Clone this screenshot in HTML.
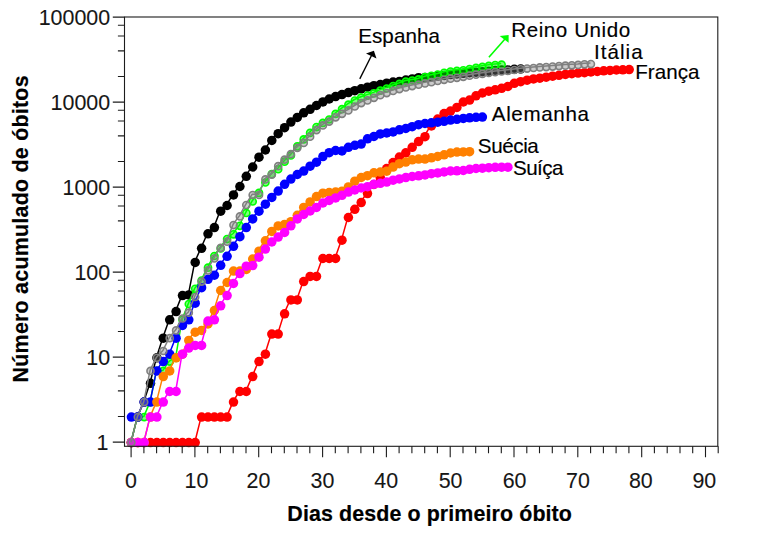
<!DOCTYPE html>
<html lang="pt"><head><meta charset="utf-8"><title>Número acumulado de óbitos</title>
<style>html,body{margin:0;padding:0;background:#fff;}body{width:774px;height:539px;overflow:hidden;}svg{display:block;}text{font-family:"Liberation Sans",sans-serif;fill:#161616;stroke:#161616;stroke-width:0.1px;}</style></head><body>
<svg width="774" height="539" viewBox="0 0 774 539">
<rect width="774" height="539" fill="#ffffff"/>
<g id="franca">
<polyline points="131.0,442.2 137.4,442.2 143.8,442.2 150.1,442.2 156.5,442.2 162.9,442.2 169.3,442.2 175.7,442.2 182.1,442.2 188.4,442.2 194.8,442.2 201.2,416.6 207.6,416.6 214.0,416.6 220.3,416.6 226.7,416.6 233.1,401.6 239.5,391.0 245.9,391.0 252.3,376.1 258.6,361.1 265.0,353.7 271.4,333.5 277.8,333.5 284.2,313.1 290.5,299.3 296.9,299.3 303.3,280.9 309.7,275.7 316.1,275.7 322.5,257.7 328.8,257.7 335.2,257.7 341.6,239.4 348.0,216.7 354.4,208.5 360.8,201.8 367.1,192.8 373.5,183.7 379.9,176.6 386.3,167.7 392.7,161.7 399.0,156.2 405.4,151.8 411.8,146.4 418.2,140.7 424.6,135.7 431.0,125.0 437.3,118.1 443.7,112.5 450.1,110.1 456.5,106.5 462.9,101.0 469.2,99.1 475.6,94.8 482.0,92.0 488.4,90.2 494.8,88.8 501.2,87.3 507.5,85.5 513.9,82.3 520.3,80.7 526.7,79.1 533.1,77.9 539.4,77.1 545.8,76.1 552.2,75.2 558.6,74.2 565.0,73.3 571.4,72.7 577.7,72.1 584.1,71.7 590.5,71.0 596.9,70.4 603.3,69.7 609.6,69.3 616.0,69.0 622.4,68.7 628.8,68.5" fill="none" stroke="#ff0000" stroke-width="1.5" stroke-linejoin="round"/>
<g fill="#ff0000">
<circle cx="131.4" cy="442.6" r="4.75"/>
<circle cx="137.8" cy="442.6" r="4.75"/>
<circle cx="144.2" cy="442.6" r="4.75"/>
<circle cx="150.5" cy="442.6" r="4.75"/>
<circle cx="156.9" cy="442.6" r="4.75"/>
<circle cx="163.3" cy="442.6" r="4.75"/>
<circle cx="169.7" cy="442.6" r="4.75"/>
<circle cx="176.1" cy="442.6" r="4.75"/>
<circle cx="182.5" cy="442.6" r="4.75"/>
<circle cx="188.8" cy="442.6" r="4.75"/>
<circle cx="195.2" cy="442.6" r="4.75"/>
<circle cx="201.6" cy="417.1" r="4.75"/>
<circle cx="208.0" cy="417.1" r="4.75"/>
<circle cx="214.4" cy="417.1" r="4.75"/>
<circle cx="220.7" cy="417.1" r="4.75"/>
<circle cx="227.1" cy="417.1" r="4.75"/>
<circle cx="233.5" cy="402.1" r="4.75"/>
<circle cx="239.9" cy="391.5" r="4.75"/>
<circle cx="246.3" cy="391.5" r="4.75"/>
<circle cx="252.7" cy="376.6" r="4.75"/>
<circle cx="259.0" cy="361.6" r="4.75"/>
<circle cx="265.4" cy="354.2" r="4.75"/>
<circle cx="271.8" cy="334.1" r="4.75"/>
<circle cx="278.2" cy="334.1" r="4.75"/>
<circle cx="284.6" cy="313.8" r="4.75"/>
<circle cx="290.9" cy="299.9" r="4.75"/>
<circle cx="297.3" cy="299.9" r="4.75"/>
<circle cx="303.7" cy="281.6" r="4.75"/>
<circle cx="310.1" cy="276.4" r="4.75"/>
<circle cx="316.5" cy="276.4" r="4.75"/>
<circle cx="322.9" cy="258.5" r="4.75"/>
<circle cx="329.2" cy="258.5" r="4.75"/>
<circle cx="335.6" cy="258.5" r="4.75"/>
<circle cx="342.0" cy="240.2" r="4.75"/>
<circle cx="348.4" cy="217.5" r="4.75"/>
<circle cx="354.8" cy="209.3" r="4.75"/>
<circle cx="361.2" cy="202.6" r="4.75"/>
<circle cx="367.5" cy="193.6" r="4.75"/>
<circle cx="373.9" cy="184.5" r="4.75"/>
<circle cx="380.3" cy="177.5" r="4.75"/>
<circle cx="386.7" cy="168.6" r="4.75"/>
<circle cx="393.1" cy="162.6" r="4.75"/>
<circle cx="399.4" cy="157.1" r="4.75"/>
<circle cx="405.8" cy="152.8" r="4.75"/>
<circle cx="412.2" cy="147.3" r="4.75"/>
<circle cx="418.6" cy="141.6" r="4.75"/>
<circle cx="425.0" cy="136.7" r="4.75"/>
<circle cx="431.4" cy="126.0" r="4.75"/>
<circle cx="437.7" cy="119.0" r="4.75"/>
<circle cx="444.1" cy="113.5" r="4.75"/>
<circle cx="450.5" cy="111.1" r="4.75"/>
<circle cx="456.9" cy="107.4" r="4.75"/>
<circle cx="463.3" cy="102.0" r="4.75"/>
<circle cx="469.6" cy="100.1" r="4.75"/>
<circle cx="476.0" cy="95.8" r="4.75"/>
<circle cx="482.4" cy="93.0" r="4.75"/>
<circle cx="488.8" cy="91.2" r="4.75"/>
<circle cx="495.2" cy="89.8" r="4.75"/>
<circle cx="501.6" cy="88.3" r="4.75"/>
<circle cx="507.9" cy="86.5" r="4.75"/>
<circle cx="514.3" cy="83.3" r="4.75"/>
<circle cx="520.7" cy="81.7" r="4.75"/>
<circle cx="527.1" cy="80.2" r="4.75"/>
<circle cx="533.5" cy="78.9" r="4.75"/>
<circle cx="539.8" cy="78.2" r="4.75"/>
<circle cx="546.2" cy="77.2" r="4.75"/>
<circle cx="552.6" cy="76.2" r="4.75"/>
<circle cx="559.0" cy="75.3" r="4.75"/>
<circle cx="565.4" cy="74.4" r="4.75"/>
<circle cx="571.8" cy="73.7" r="4.75"/>
<circle cx="578.1" cy="73.1" r="4.75"/>
<circle cx="584.5" cy="72.7" r="4.75"/>
<circle cx="590.9" cy="72.0" r="4.75"/>
<circle cx="597.3" cy="71.5" r="4.75"/>
<circle cx="603.7" cy="70.8" r="4.75"/>
<circle cx="610.0" cy="70.4" r="4.75"/>
<circle cx="616.4" cy="70.0" r="4.75"/>
<circle cx="622.8" cy="69.8" r="4.75"/>
<circle cx="629.2" cy="69.6" r="4.75"/>
</g></g>
<g id="espanha">
<polyline points="131.0,442.2 137.4,416.6 143.8,401.6 150.1,382.8 156.5,357.2 162.9,337.6 169.3,319.2 175.7,311.0 182.1,294.9 188.4,294.3 194.8,261.7 201.2,247.5 207.6,233.0 214.0,226.8 220.3,210.4 226.7,204.7 233.1,194.1 239.5,185.6 245.9,175.4 252.3,166.1 258.6,156.3 265.0,149.1 271.4,139.4 277.8,132.8 284.2,126.8 290.5,121.2 296.9,116.4 303.3,111.8 309.7,108.4 316.1,104.5 322.5,100.9 328.8,98.0 335.2,95.6 341.6,93.5 348.0,91.6 354.4,89.7 360.8,87.7 367.1,86.1 373.5,84.7 379.9,83.5 386.3,82.2 392.7,81.0 399.0,80.4 405.4,79.1 411.8,77.9 418.2,76.6 424.6,76.5 431.0,75.8 437.3,75.1 443.7,74.3 450.1,73.6 456.5,72.8 462.9,72.2 469.2,71.6 475.6,71.1 482.0,70.6 488.4,70.2 494.8,69.5 501.2,69.1 507.5,69.1 513.9,68.2 520.3,68.0" fill="none" stroke="#000000" stroke-width="1.5" stroke-linejoin="round"/>
<g fill="#000000">
<circle cx="131.4" cy="442.6" r="4.75"/>
<circle cx="137.8" cy="417.1" r="4.75"/>
<circle cx="144.2" cy="402.1" r="4.75"/>
<circle cx="150.5" cy="383.3" r="4.75"/>
<circle cx="156.9" cy="357.8" r="4.75"/>
<circle cx="163.3" cy="338.2" r="4.75"/>
<circle cx="169.7" cy="319.8" r="4.75"/>
<circle cx="176.1" cy="311.6" r="4.75"/>
<circle cx="182.5" cy="295.6" r="4.75"/>
<circle cx="188.8" cy="294.9" r="4.75"/>
<circle cx="195.2" cy="262.4" r="4.75"/>
<circle cx="201.6" cy="248.3" r="4.75"/>
<circle cx="208.0" cy="233.8" r="4.75"/>
<circle cx="214.4" cy="227.6" r="4.75"/>
<circle cx="220.7" cy="211.2" r="4.75"/>
<circle cx="227.1" cy="205.5" r="4.75"/>
<circle cx="233.5" cy="194.9" r="4.75"/>
<circle cx="239.9" cy="186.5" r="4.75"/>
<circle cx="246.3" cy="176.3" r="4.75"/>
<circle cx="252.7" cy="167.0" r="4.75"/>
<circle cx="259.0" cy="157.2" r="4.75"/>
<circle cx="265.4" cy="150.0" r="4.75"/>
<circle cx="271.8" cy="140.4" r="4.75"/>
<circle cx="278.2" cy="133.7" r="4.75"/>
<circle cx="284.6" cy="127.7" r="4.75"/>
<circle cx="290.9" cy="122.1" r="4.75"/>
<circle cx="297.3" cy="117.4" r="4.75"/>
<circle cx="303.7" cy="112.8" r="4.75"/>
<circle cx="310.1" cy="109.3" r="4.75"/>
<circle cx="316.5" cy="105.5" r="4.75"/>
<circle cx="322.9" cy="101.9" r="4.75"/>
<circle cx="329.2" cy="99.0" r="4.75"/>
<circle cx="335.6" cy="96.6" r="4.75"/>
<circle cx="342.0" cy="94.6" r="4.75"/>
<circle cx="348.4" cy="92.6" r="4.75"/>
<circle cx="354.8" cy="90.7" r="4.75"/>
<circle cx="361.2" cy="88.8" r="4.75"/>
<circle cx="367.5" cy="87.2" r="4.75"/>
<circle cx="373.9" cy="85.7" r="4.75"/>
<circle cx="380.3" cy="84.5" r="4.75"/>
<circle cx="386.7" cy="83.2" r="4.75"/>
<circle cx="393.1" cy="82.0" r="4.75"/>
<circle cx="399.4" cy="81.4" r="4.75"/>
<circle cx="405.8" cy="80.1" r="4.75"/>
<circle cx="412.2" cy="78.9" r="4.75"/>
<circle cx="418.6" cy="77.7" r="4.75"/>
<circle cx="425.0" cy="77.6" r="4.75"/>
<circle cx="431.4" cy="76.8" r="4.75"/>
<circle cx="437.7" cy="76.1" r="4.75"/>
<circle cx="444.1" cy="75.4" r="4.75"/>
<circle cx="450.5" cy="74.6" r="4.75"/>
<circle cx="456.9" cy="73.9" r="4.75"/>
<circle cx="463.3" cy="73.3" r="4.75"/>
<circle cx="469.6" cy="72.7" r="4.75"/>
<circle cx="476.0" cy="72.2" r="4.75"/>
<circle cx="482.4" cy="71.7" r="4.75"/>
<circle cx="488.8" cy="71.2" r="4.75"/>
<circle cx="495.2" cy="70.5" r="4.75"/>
<circle cx="501.6" cy="70.1" r="4.75"/>
<circle cx="507.9" cy="70.1" r="4.75"/>
<circle cx="514.3" cy="69.3" r="4.75"/>
<circle cx="520.7" cy="69.0" r="4.75"/>
</g></g>
<g id="uk">
<polyline points="131.0,442.2 137.4,416.6 143.8,416.6 150.1,401.6 156.5,370.4 162.9,370.4 169.3,361.1 175.7,357.2 182.1,319.2 188.4,303.4 194.8,288.1 201.2,280.0 207.6,267.0 214.0,255.3 220.3,247.7 226.7,238.4 233.1,233.5 239.5,225.0 245.9,212.2 252.3,200.7 258.6,192.0 265.0,181.7 271.4,173.4 277.8,168.3 284.2,160.8 290.5,154.5 296.9,145.5 303.3,138.4 309.7,132.0 316.1,126.2 322.5,121.9 328.8,118.5 335.2,113.0 341.6,108.2 348.0,103.7 354.4,99.5 360.8,96.7 367.1,94.6 373.5,92.4 379.9,89.6 386.3,87.4 392.7,85.0 399.0,82.9 405.4,80.5 411.8,79.5 418.2,78.4 424.6,76.2 431.0,74.7 437.3,73.5 443.7,71.8 450.1,70.4 456.5,69.8 462.9,69.3 469.2,67.9 475.6,66.8 482.0,65.8 488.4,64.8 494.8,64.0 501.2,63.6" fill="none" stroke="#00ff00" stroke-width="1.5" stroke-linejoin="round"/>
<g fill="#00ff00" fill-opacity="0.5" stroke="#00ff00" stroke-width="1.6">
<circle cx="131.4" cy="442.6" r="3.55"/>
<circle cx="137.8" cy="417.1" r="3.55"/>
<circle cx="144.2" cy="417.1" r="3.55"/>
<circle cx="150.5" cy="402.1" r="3.55"/>
<circle cx="156.9" cy="370.9" r="3.55"/>
<circle cx="163.3" cy="370.9" r="3.55"/>
<circle cx="169.7" cy="361.6" r="3.55"/>
<circle cx="176.1" cy="357.8" r="3.55"/>
<circle cx="182.5" cy="319.8" r="3.55"/>
<circle cx="188.8" cy="304.0" r="3.55"/>
<circle cx="195.2" cy="288.8" r="3.55"/>
<circle cx="201.6" cy="280.7" r="3.55"/>
<circle cx="208.0" cy="267.7" r="3.55"/>
<circle cx="214.4" cy="256.0" r="3.55"/>
<circle cx="220.7" cy="248.5" r="3.55"/>
<circle cx="227.1" cy="239.1" r="3.55"/>
<circle cx="233.5" cy="234.3" r="3.55"/>
<circle cx="239.9" cy="225.8" r="3.55"/>
<circle cx="246.3" cy="213.0" r="3.55"/>
<circle cx="252.7" cy="201.5" r="3.55"/>
<circle cx="259.0" cy="192.9" r="3.55"/>
<circle cx="265.4" cy="182.5" r="3.55"/>
<circle cx="271.8" cy="174.2" r="3.55"/>
<circle cx="278.2" cy="169.2" r="3.55"/>
<circle cx="284.6" cy="161.7" r="3.55"/>
<circle cx="290.9" cy="155.4" r="3.55"/>
<circle cx="297.3" cy="146.4" r="3.55"/>
<circle cx="303.7" cy="139.4" r="3.55"/>
<circle cx="310.1" cy="132.9" r="3.55"/>
<circle cx="316.5" cy="127.1" r="3.55"/>
<circle cx="322.9" cy="122.9" r="3.55"/>
<circle cx="329.2" cy="119.5" r="3.55"/>
<circle cx="335.6" cy="113.9" r="3.55"/>
<circle cx="342.0" cy="109.2" r="3.55"/>
<circle cx="348.4" cy="104.7" r="3.55"/>
<circle cx="354.8" cy="100.5" r="3.55"/>
<circle cx="361.2" cy="97.7" r="3.55"/>
<circle cx="367.5" cy="95.6" r="3.55"/>
<circle cx="373.9" cy="93.4" r="3.55"/>
<circle cx="380.3" cy="90.6" r="3.55"/>
<circle cx="386.7" cy="88.5" r="3.55"/>
<circle cx="393.1" cy="86.0" r="3.55"/>
<circle cx="399.4" cy="83.9" r="3.55"/>
<circle cx="405.8" cy="81.6" r="3.55"/>
<circle cx="412.2" cy="80.5" r="3.55"/>
<circle cx="418.6" cy="79.4" r="3.55"/>
<circle cx="425.0" cy="77.2" r="3.55"/>
<circle cx="431.4" cy="75.8" r="3.55"/>
<circle cx="437.7" cy="74.5" r="3.55"/>
<circle cx="444.1" cy="72.8" r="3.55"/>
<circle cx="450.5" cy="71.5" r="3.55"/>
<circle cx="456.9" cy="70.9" r="3.55"/>
<circle cx="463.3" cy="70.3" r="3.55"/>
<circle cx="469.6" cy="69.0" r="3.55"/>
<circle cx="476.0" cy="67.9" r="3.55"/>
<circle cx="482.4" cy="66.9" r="3.55"/>
<circle cx="488.8" cy="65.9" r="3.55"/>
<circle cx="495.2" cy="65.1" r="3.55"/>
<circle cx="501.6" cy="64.7" r="3.55"/>
</g></g>
<g id="alemanha">
<polyline points="131.0,416.6 137.4,416.6 143.8,401.6 150.1,401.6 156.5,370.4 162.9,361.1 169.3,353.7 175.7,337.6 182.1,324.9 188.4,319.2 194.8,302.5 201.2,287.0 207.6,278.6 214.0,274.5 220.3,264.6 226.7,255.5 233.1,245.5 239.5,235.9 245.9,226.8 252.3,218.1 258.6,210.4 265.0,203.4 271.4,196.6 277.8,190.3 284.2,183.4 290.5,178.2 296.9,173.6 303.3,170.2 309.7,165.3 316.1,161.3 322.5,155.7 328.8,151.8 335.2,149.6 341.6,150.0 348.0,146.4 354.4,144.3 360.8,143.2 367.1,137.9 373.5,135.5 379.9,132.9 386.3,132.0 392.7,131.0 399.0,128.8 405.4,127.5 411.8,125.8 418.2,123.8 424.6,122.6 431.0,121.8 437.3,121.2 443.7,120.3 450.1,119.2 456.5,118.3 462.9,117.4 469.2,116.8 475.6,116.4 482.0,116.1" fill="none" stroke="#0000ff" stroke-width="1.5" stroke-linejoin="round"/>
<g fill="#0000ff">
<circle cx="131.4" cy="417.1" r="4.75"/>
<circle cx="137.8" cy="417.1" r="4.75"/>
<circle cx="144.2" cy="402.1" r="4.75"/>
<circle cx="150.5" cy="402.1" r="4.75"/>
<circle cx="156.9" cy="370.9" r="4.75"/>
<circle cx="163.3" cy="361.6" r="4.75"/>
<circle cx="169.7" cy="354.2" r="4.75"/>
<circle cx="176.1" cy="338.2" r="4.75"/>
<circle cx="182.5" cy="325.5" r="4.75"/>
<circle cx="188.8" cy="319.8" r="4.75"/>
<circle cx="195.2" cy="303.2" r="4.75"/>
<circle cx="201.6" cy="287.7" r="4.75"/>
<circle cx="208.0" cy="279.3" r="4.75"/>
<circle cx="214.4" cy="275.2" r="4.75"/>
<circle cx="220.7" cy="265.3" r="4.75"/>
<circle cx="227.1" cy="256.3" r="4.75"/>
<circle cx="233.5" cy="246.3" r="4.75"/>
<circle cx="239.9" cy="236.7" r="4.75"/>
<circle cx="246.3" cy="227.6" r="4.75"/>
<circle cx="252.7" cy="218.9" r="4.75"/>
<circle cx="259.0" cy="211.2" r="4.75"/>
<circle cx="265.4" cy="204.2" r="4.75"/>
<circle cx="271.8" cy="197.4" r="4.75"/>
<circle cx="278.2" cy="191.1" r="4.75"/>
<circle cx="284.6" cy="184.3" r="4.75"/>
<circle cx="290.9" cy="179.1" r="4.75"/>
<circle cx="297.3" cy="174.5" r="4.75"/>
<circle cx="303.7" cy="171.1" r="4.75"/>
<circle cx="310.1" cy="166.2" r="4.75"/>
<circle cx="316.5" cy="162.2" r="4.75"/>
<circle cx="322.9" cy="156.6" r="4.75"/>
<circle cx="329.2" cy="152.7" r="4.75"/>
<circle cx="335.6" cy="150.5" r="4.75"/>
<circle cx="342.0" cy="151.0" r="4.75"/>
<circle cx="348.4" cy="147.3" r="4.75"/>
<circle cx="354.8" cy="145.3" r="4.75"/>
<circle cx="361.2" cy="144.1" r="4.75"/>
<circle cx="367.5" cy="138.8" r="4.75"/>
<circle cx="373.9" cy="136.5" r="4.75"/>
<circle cx="380.3" cy="133.9" r="4.75"/>
<circle cx="386.7" cy="133.0" r="4.75"/>
<circle cx="393.1" cy="131.9" r="4.75"/>
<circle cx="399.4" cy="129.8" r="4.75"/>
<circle cx="405.8" cy="128.5" r="4.75"/>
<circle cx="412.2" cy="126.7" r="4.75"/>
<circle cx="418.6" cy="124.7" r="4.75"/>
<circle cx="425.0" cy="123.5" r="4.75"/>
<circle cx="431.4" cy="122.8" r="4.75"/>
<circle cx="437.7" cy="122.2" r="4.75"/>
<circle cx="444.1" cy="121.3" r="4.75"/>
<circle cx="450.5" cy="120.1" r="4.75"/>
<circle cx="456.9" cy="119.3" r="4.75"/>
<circle cx="463.3" cy="118.4" r="4.75"/>
<circle cx="469.6" cy="117.8" r="4.75"/>
<circle cx="476.0" cy="117.3" r="4.75"/>
<circle cx="482.4" cy="117.1" r="4.75"/>
</g></g>
<g id="suecia">
<polyline points="131.0,442.2 137.4,442.2 143.8,442.2 150.1,416.6 156.5,401.6 162.9,376.1 169.3,370.4 175.7,357.2 182.1,353.7 188.4,339.8 194.8,331.6 201.2,329.8 207.6,323.4 214.0,309.9 220.3,289.8 226.7,281.8 233.1,270.4 239.5,270.4 245.9,268.7 252.3,258.2 258.6,250.5 265.0,240.0 271.4,230.7 277.8,225.1 284.2,223.6 290.5,220.9 296.9,214.5 303.3,206.6 309.7,201.1 316.1,195.8 322.5,192.3 328.8,191.6 335.2,191.1 341.6,190.3 348.0,186.0 354.4,180.4 360.8,176.6 367.1,174.8 373.5,172.0 379.9,171.3 386.3,170.3 392.7,166.2 399.0,162.8 405.4,161.2 411.8,158.9 418.2,158.2 424.6,158.2 431.0,156.9 437.3,155.6 443.7,153.9 450.1,152.1 456.5,151.2 462.9,151.0 469.2,150.8" fill="none" stroke="#ff8000" stroke-width="1.5" stroke-linejoin="round"/>
<g fill="#ff8000">
<circle cx="131.4" cy="442.6" r="4.75"/>
<circle cx="137.8" cy="442.6" r="4.75"/>
<circle cx="144.2" cy="442.6" r="4.75"/>
<circle cx="150.5" cy="417.1" r="4.75"/>
<circle cx="156.9" cy="402.1" r="4.75"/>
<circle cx="163.3" cy="376.6" r="4.75"/>
<circle cx="169.7" cy="370.9" r="4.75"/>
<circle cx="176.1" cy="357.8" r="4.75"/>
<circle cx="182.5" cy="354.2" r="4.75"/>
<circle cx="188.8" cy="340.4" r="4.75"/>
<circle cx="195.2" cy="332.2" r="4.75"/>
<circle cx="201.6" cy="330.4" r="4.75"/>
<circle cx="208.0" cy="324.0" r="4.75"/>
<circle cx="214.4" cy="310.5" r="4.75"/>
<circle cx="220.7" cy="290.5" r="4.75"/>
<circle cx="227.1" cy="282.5" r="4.75"/>
<circle cx="233.5" cy="271.1" r="4.75"/>
<circle cx="239.9" cy="271.1" r="4.75"/>
<circle cx="246.3" cy="269.4" r="4.75"/>
<circle cx="252.7" cy="259.0" r="4.75"/>
<circle cx="259.0" cy="251.2" r="4.75"/>
<circle cx="265.4" cy="240.8" r="4.75"/>
<circle cx="271.8" cy="231.4" r="4.75"/>
<circle cx="278.2" cy="225.9" r="4.75"/>
<circle cx="284.6" cy="224.4" r="4.75"/>
<circle cx="290.9" cy="221.7" r="4.75"/>
<circle cx="297.3" cy="215.3" r="4.75"/>
<circle cx="303.7" cy="207.4" r="4.75"/>
<circle cx="310.1" cy="201.9" r="4.75"/>
<circle cx="316.5" cy="196.6" r="4.75"/>
<circle cx="322.9" cy="193.2" r="4.75"/>
<circle cx="329.2" cy="192.5" r="4.75"/>
<circle cx="335.6" cy="192.0" r="4.75"/>
<circle cx="342.0" cy="191.2" r="4.75"/>
<circle cx="348.4" cy="186.9" r="4.75"/>
<circle cx="354.8" cy="181.2" r="4.75"/>
<circle cx="361.2" cy="177.5" r="4.75"/>
<circle cx="367.5" cy="175.7" r="4.75"/>
<circle cx="373.9" cy="172.8" r="4.75"/>
<circle cx="380.3" cy="172.1" r="4.75"/>
<circle cx="386.7" cy="171.2" r="4.75"/>
<circle cx="393.1" cy="167.1" r="4.75"/>
<circle cx="399.4" cy="163.7" r="4.75"/>
<circle cx="405.8" cy="162.1" r="4.75"/>
<circle cx="412.2" cy="159.8" r="4.75"/>
<circle cx="418.6" cy="159.1" r="4.75"/>
<circle cx="425.0" cy="159.1" r="4.75"/>
<circle cx="431.4" cy="157.8" r="4.75"/>
<circle cx="437.7" cy="156.5" r="4.75"/>
<circle cx="444.1" cy="154.8" r="4.75"/>
<circle cx="450.5" cy="153.0" r="4.75"/>
<circle cx="456.9" cy="152.1" r="4.75"/>
<circle cx="463.3" cy="151.9" r="4.75"/>
<circle cx="469.6" cy="151.7" r="4.75"/>
</g></g>
<g id="suica">
<polyline points="131.0,442.2 137.4,442.2 143.8,442.2 150.1,416.6 156.5,416.6 162.9,401.6 169.3,391.0 175.7,391.0 182.1,353.7 188.4,347.5 194.8,344.8 201.2,344.8 207.6,320.5 214.0,319.2 220.3,305.1 226.7,294.9 233.1,282.8 239.5,272.9 245.9,265.5 252.3,264.9 258.6,256.5 265.0,248.3 271.4,241.3 277.8,236.4 284.2,231.6 290.5,225.0 296.9,218.1 303.3,213.7 309.7,210.2 316.1,206.6 322.5,202.2 328.8,199.6 335.2,197.1 341.6,194.5 348.0,191.3 354.4,189.2 360.8,187.1 367.1,185.9 373.5,183.5 379.9,182.4 386.3,181.3 392.7,179.3 399.0,178.1 405.4,176.8 411.8,175.6 418.2,175.0 424.6,174.0 431.0,172.8 437.3,172.0 443.7,171.0 450.1,170.1 456.5,169.9 462.9,169.6 469.2,168.4 475.6,167.6 482.0,167.3 488.4,166.8 494.8,166.5 501.2,166.3 507.5,166.3" fill="none" stroke="#ff00ff" stroke-width="1.5" stroke-linejoin="round"/>
<g fill="#ff00ff">
<circle cx="131.4" cy="442.6" r="4.75"/>
<circle cx="137.8" cy="442.6" r="4.75"/>
<circle cx="144.2" cy="442.6" r="4.75"/>
<circle cx="150.5" cy="417.1" r="4.75"/>
<circle cx="156.9" cy="417.1" r="4.75"/>
<circle cx="163.3" cy="402.1" r="4.75"/>
<circle cx="169.7" cy="391.5" r="4.75"/>
<circle cx="176.1" cy="391.5" r="4.75"/>
<circle cx="182.5" cy="354.2" r="4.75"/>
<circle cx="188.8" cy="348.1" r="4.75"/>
<circle cx="195.2" cy="345.4" r="4.75"/>
<circle cx="201.6" cy="345.4" r="4.75"/>
<circle cx="208.0" cy="321.1" r="4.75"/>
<circle cx="214.4" cy="319.8" r="4.75"/>
<circle cx="220.7" cy="305.8" r="4.75"/>
<circle cx="227.1" cy="295.6" r="4.75"/>
<circle cx="233.5" cy="283.5" r="4.75"/>
<circle cx="239.9" cy="273.6" r="4.75"/>
<circle cx="246.3" cy="266.2" r="4.75"/>
<circle cx="252.7" cy="265.6" r="4.75"/>
<circle cx="259.0" cy="257.2" r="4.75"/>
<circle cx="265.4" cy="249.1" r="4.75"/>
<circle cx="271.8" cy="242.0" r="4.75"/>
<circle cx="278.2" cy="237.1" r="4.75"/>
<circle cx="284.6" cy="232.4" r="4.75"/>
<circle cx="290.9" cy="225.8" r="4.75"/>
<circle cx="297.3" cy="218.9" r="4.75"/>
<circle cx="303.7" cy="214.5" r="4.75"/>
<circle cx="310.1" cy="211.0" r="4.75"/>
<circle cx="316.5" cy="207.4" r="4.75"/>
<circle cx="322.9" cy="203.0" r="4.75"/>
<circle cx="329.2" cy="200.4" r="4.75"/>
<circle cx="335.6" cy="197.9" r="4.75"/>
<circle cx="342.0" cy="195.3" r="4.75"/>
<circle cx="348.4" cy="192.1" r="4.75"/>
<circle cx="354.8" cy="190.0" r="4.75"/>
<circle cx="361.2" cy="188.0" r="4.75"/>
<circle cx="367.5" cy="186.7" r="4.75"/>
<circle cx="373.9" cy="184.3" r="4.75"/>
<circle cx="380.3" cy="183.3" r="4.75"/>
<circle cx="386.7" cy="182.1" r="4.75"/>
<circle cx="393.1" cy="180.2" r="4.75"/>
<circle cx="399.4" cy="178.9" r="4.75"/>
<circle cx="405.8" cy="177.6" r="4.75"/>
<circle cx="412.2" cy="176.5" r="4.75"/>
<circle cx="418.6" cy="175.8" r="4.75"/>
<circle cx="425.0" cy="174.9" r="4.75"/>
<circle cx="431.4" cy="173.7" r="4.75"/>
<circle cx="437.7" cy="172.9" r="4.75"/>
<circle cx="444.1" cy="171.9" r="4.75"/>
<circle cx="450.5" cy="171.0" r="4.75"/>
<circle cx="456.9" cy="170.8" r="4.75"/>
<circle cx="463.3" cy="170.5" r="4.75"/>
<circle cx="469.6" cy="169.3" r="4.75"/>
<circle cx="476.0" cy="168.5" r="4.75"/>
<circle cx="482.4" cy="168.2" r="4.75"/>
<circle cx="488.8" cy="167.7" r="4.75"/>
<circle cx="495.2" cy="167.3" r="4.75"/>
<circle cx="501.6" cy="167.2" r="4.75"/>
<circle cx="507.9" cy="167.2" r="4.75"/>
</g></g>
<g id="italia">
<polyline points="131.0,442.2 137.4,416.6 143.8,401.6 150.1,370.4 156.5,357.2 162.9,350.5 169.3,337.6 175.7,329.8 182.1,317.9 188.4,312.0 194.8,296.3 201.2,280.9 207.6,269.7 214.0,257.7 220.3,247.2 226.7,241.0 233.1,224.3 239.5,215.6 245.9,204.2 252.3,194.2 258.6,194.2 265.0,178.5 271.4,173.7 277.8,165.3 284.2,158.8 290.5,153.3 296.9,146.9 303.3,142.0 309.7,135.7 316.1,129.1 322.5,124.4 328.8,120.6 335.2,116.3 341.6,112.8 348.0,109.5 354.4,105.5 360.8,102.1 367.1,99.4 373.5,96.7 379.9,94.2 386.3,92.1 392.7,90.0 399.0,88.0 405.4,86.4 411.8,85.1 418.2,83.7 424.6,82.3 431.0,81.2 437.3,79.9 443.7,78.8 450.1,77.6 456.5,76.8 462.9,75.8 469.2,74.7 475.6,73.7 482.0,72.8 488.4,71.9 494.8,71.1 501.2,70.4 507.5,69.7 513.9,68.9 520.3,68.2 526.7,67.6 533.1,67.0 539.4,66.4 545.8,66.0 552.2,65.6 558.6,65.0 565.0,64.6 571.4,64.2 577.7,63.9 584.1,63.3 590.5,63.0" fill="none" stroke="#808080" stroke-width="1.5" stroke-linejoin="round"/>
<g fill="#808080" fill-opacity="0.4" stroke="#808080" stroke-width="1.6">
<circle cx="131.4" cy="442.6" r="3.55"/>
<circle cx="137.8" cy="417.1" r="3.55"/>
<circle cx="144.2" cy="402.1" r="3.55"/>
<circle cx="150.5" cy="370.9" r="3.55"/>
<circle cx="156.9" cy="357.8" r="3.55"/>
<circle cx="163.3" cy="351.0" r="3.55"/>
<circle cx="169.7" cy="338.2" r="3.55"/>
<circle cx="176.1" cy="330.4" r="3.55"/>
<circle cx="182.5" cy="318.5" r="3.55"/>
<circle cx="188.8" cy="312.7" r="3.55"/>
<circle cx="195.2" cy="297.0" r="3.55"/>
<circle cx="201.6" cy="281.6" r="3.55"/>
<circle cx="208.0" cy="270.4" r="3.55"/>
<circle cx="214.4" cy="258.5" r="3.55"/>
<circle cx="220.7" cy="247.9" r="3.55"/>
<circle cx="227.1" cy="241.7" r="3.55"/>
<circle cx="233.5" cy="225.1" r="3.55"/>
<circle cx="239.9" cy="216.4" r="3.55"/>
<circle cx="246.3" cy="205.0" r="3.55"/>
<circle cx="252.7" cy="195.0" r="3.55"/>
<circle cx="259.0" cy="195.0" r="3.55"/>
<circle cx="265.4" cy="179.4" r="3.55"/>
<circle cx="271.8" cy="174.6" r="3.55"/>
<circle cx="278.2" cy="166.2" r="3.55"/>
<circle cx="284.6" cy="159.7" r="3.55"/>
<circle cx="290.9" cy="154.2" r="3.55"/>
<circle cx="297.3" cy="147.8" r="3.55"/>
<circle cx="303.7" cy="142.9" r="3.55"/>
<circle cx="310.1" cy="136.7" r="3.55"/>
<circle cx="316.5" cy="130.1" r="3.55"/>
<circle cx="322.9" cy="125.4" r="3.55"/>
<circle cx="329.2" cy="121.6" r="3.55"/>
<circle cx="335.6" cy="117.3" r="3.55"/>
<circle cx="342.0" cy="113.8" r="3.55"/>
<circle cx="348.4" cy="110.4" r="3.55"/>
<circle cx="354.8" cy="106.5" r="3.55"/>
<circle cx="361.2" cy="103.1" r="3.55"/>
<circle cx="367.5" cy="100.4" r="3.55"/>
<circle cx="373.9" cy="97.8" r="3.55"/>
<circle cx="380.3" cy="95.2" r="3.55"/>
<circle cx="386.7" cy="93.1" r="3.55"/>
<circle cx="393.1" cy="91.0" r="3.55"/>
<circle cx="399.4" cy="89.1" r="3.55"/>
<circle cx="405.8" cy="87.4" r="3.55"/>
<circle cx="412.2" cy="86.1" r="3.55"/>
<circle cx="418.6" cy="84.7" r="3.55"/>
<circle cx="425.0" cy="83.4" r="3.55"/>
<circle cx="431.4" cy="82.2" r="3.55"/>
<circle cx="437.7" cy="81.0" r="3.55"/>
<circle cx="444.1" cy="79.8" r="3.55"/>
<circle cx="450.5" cy="78.7" r="3.55"/>
<circle cx="456.9" cy="77.8" r="3.55"/>
<circle cx="463.3" cy="76.8" r="3.55"/>
<circle cx="469.6" cy="75.7" r="3.55"/>
<circle cx="476.0" cy="74.7" r="3.55"/>
<circle cx="482.4" cy="73.9" r="3.55"/>
<circle cx="488.8" cy="72.9" r="3.55"/>
<circle cx="495.2" cy="72.1" r="3.55"/>
<circle cx="501.6" cy="71.5" r="3.55"/>
<circle cx="507.9" cy="70.8" r="3.55"/>
<circle cx="514.3" cy="70.0" r="3.55"/>
<circle cx="520.7" cy="69.3" r="3.55"/>
<circle cx="527.1" cy="68.6" r="3.55"/>
<circle cx="533.5" cy="68.0" r="3.55"/>
<circle cx="539.8" cy="67.4" r="3.55"/>
<circle cx="546.2" cy="67.1" r="3.55"/>
<circle cx="552.6" cy="66.6" r="3.55"/>
<circle cx="559.0" cy="66.1" r="3.55"/>
<circle cx="565.4" cy="65.7" r="3.55"/>
<circle cx="571.8" cy="65.3" r="3.55"/>
<circle cx="578.1" cy="64.9" r="3.55"/>
<circle cx="584.5" cy="64.3" r="3.55"/>
<circle cx="590.9" cy="64.1" r="3.55"/>
</g></g>
<g stroke="#1c1c1c" stroke-width="1.1" fill="none">
<rect x="124.5" y="17.0" width="593.3" height="429.3"/>
<path d="M112.8 442.1H124.5M117.9 416.5H124.5M117.9 390.9H124.5M117.9 376.0H124.5M117.9 365.3H124.5M112.8 357.1H124.5M117.9 331.5H124.5M117.9 305.9H124.5M117.9 291.0H124.5M117.9 280.3H124.5M112.8 272.1H124.5M117.9 246.5H124.5M117.9 220.9H124.5M117.9 206.0H124.5M117.9 195.3H124.5M112.8 187.1H124.5M117.9 161.5H124.5M117.9 135.9H124.5M117.9 121.0H124.5M117.9 110.3H124.5M112.8 102.1H124.5M117.9 76.5H124.5M117.9 50.9H124.5M117.9 36.0H124.5M117.9 25.3H124.5M112.8 17.1H124.5M131.1 446.3V457.3M143.9 446.3V453.3M156.6 446.3V453.3M169.4 446.3V453.3M182.2 446.3V453.3M194.9 446.3V457.3M207.7 446.3V453.3M220.4 446.3V453.3M233.2 446.3V453.3M246.0 446.3V453.3M258.7 446.3V457.3M271.5 446.3V453.3M284.3 446.3V453.3M297.0 446.3V453.3M309.8 446.3V453.3M322.6 446.3V457.3M335.3 446.3V453.3M348.1 446.3V453.3M360.9 446.3V453.3M373.6 446.3V453.3M386.4 446.3V457.3M399.1 446.3V453.3M411.9 446.3V453.3M424.7 446.3V453.3M437.4 446.3V453.3M450.2 446.3V457.3M463.0 446.3V453.3M475.7 446.3V453.3M488.5 446.3V453.3M501.3 446.3V453.3M514.0 446.3V457.3M526.8 446.3V453.3M539.5 446.3V453.3M552.3 446.3V453.3M565.1 446.3V453.3M577.8 446.3V457.3M590.6 446.3V453.3M603.4 446.3V453.3M616.1 446.3V453.3M628.9 446.3V453.3M641.7 446.3V457.3M654.4 446.3V453.3M667.2 446.3V453.3M680.0 446.3V453.3M692.7 446.3V453.3M705.5 446.3V457.3M718.2 446.3V453.3"/>
</g>
<g font-size="21.4" text-anchor="end">
<text x="108.5" y="449.8">1</text>
<text x="110.1" y="364.8">10</text>
<text x="110.1" y="279.8">100</text>
<text x="110.1" y="194.8">1000</text>
<text x="110.1" y="109.8">10000</text>
<text x="110.1" y="24.8">100000</text>
</g>
<g font-size="21.4" text-anchor="middle">
<text x="130.9" y="488.4">0</text>
<text x="196.4" y="488.4">10</text>
<text x="258.5" y="488.4">20</text>
<text x="322.4" y="488.4">30</text>
<text x="386.2" y="488.4">40</text>
<text x="450.6" y="488.4">50</text>
<text x="514.6" y="488.4">60</text>
<text x="578.0" y="488.4">70</text>
<text x="640.8" y="488.4">80</text>
<text x="704.3" y="488.4">90</text>
</g>
<text x="429.7" y="520.7" font-size="21.4" font-weight="bold" text-anchor="middle" letter-spacing="0.11" style="fill:#000;stroke:#000;stroke-width:0.2px">Dias desde o primeiro óbito</text>
<text transform="translate(28.3,228.8) rotate(-90)" font-size="21.4" font-weight="bold" text-anchor="middle" letter-spacing="0.25" style="fill:#000;stroke:#000;stroke-width:0.2px">Número acumulado de óbitos</text>
<g font-size="20.6" style="fill:#000;stroke:#000;stroke-width:0.15px">
<text x="358.2" y="42.7" letter-spacing="0.07" style="fill:#000;stroke:#000;stroke-width:0.15px">Espanha</text>
<text x="511.3" y="36.7" letter-spacing="0.55" style="fill:#000;stroke:#000;stroke-width:0.15px">Reino Unido</text>
<text x="594.0" y="58.7" letter-spacing="1.02" style="fill:#000;stroke:#000;stroke-width:0.15px">Itália</text>
<text x="635.2" y="78.8" letter-spacing="0.05" style="fill:#000;stroke:#000;stroke-width:0.15px">França</text>
<text x="491.8" y="121.4" letter-spacing="0.63" style="fill:#000;stroke:#000;stroke-width:0.15px">Alemanha</text>
<text x="477.8" y="153.1" letter-spacing="-0.4" style="fill:#000;stroke:#000;stroke-width:0.15px">Suécia</text>
<text x="513.0" y="174.5" letter-spacing="-0.55" style="fill:#000;stroke:#000;stroke-width:0.15px">Suíça</text>
</g>
<g stroke="#000" stroke-width="1.35" fill="#000"><path d="M359.8 78.9L371.5 55.5" fill="none"/><path d="M373.9 50.8L366.0 53.4L376.5 58.4Z" stroke="none"/></g>
<g stroke="#00ff00" stroke-width="1.6" fill="#00ff00"><path d="M488.9 57.3L505 39" fill="none"/><path d="M508.6 35L499.7 36L508.6 42.8Z" stroke="none"/></g>
</svg></body></html>
